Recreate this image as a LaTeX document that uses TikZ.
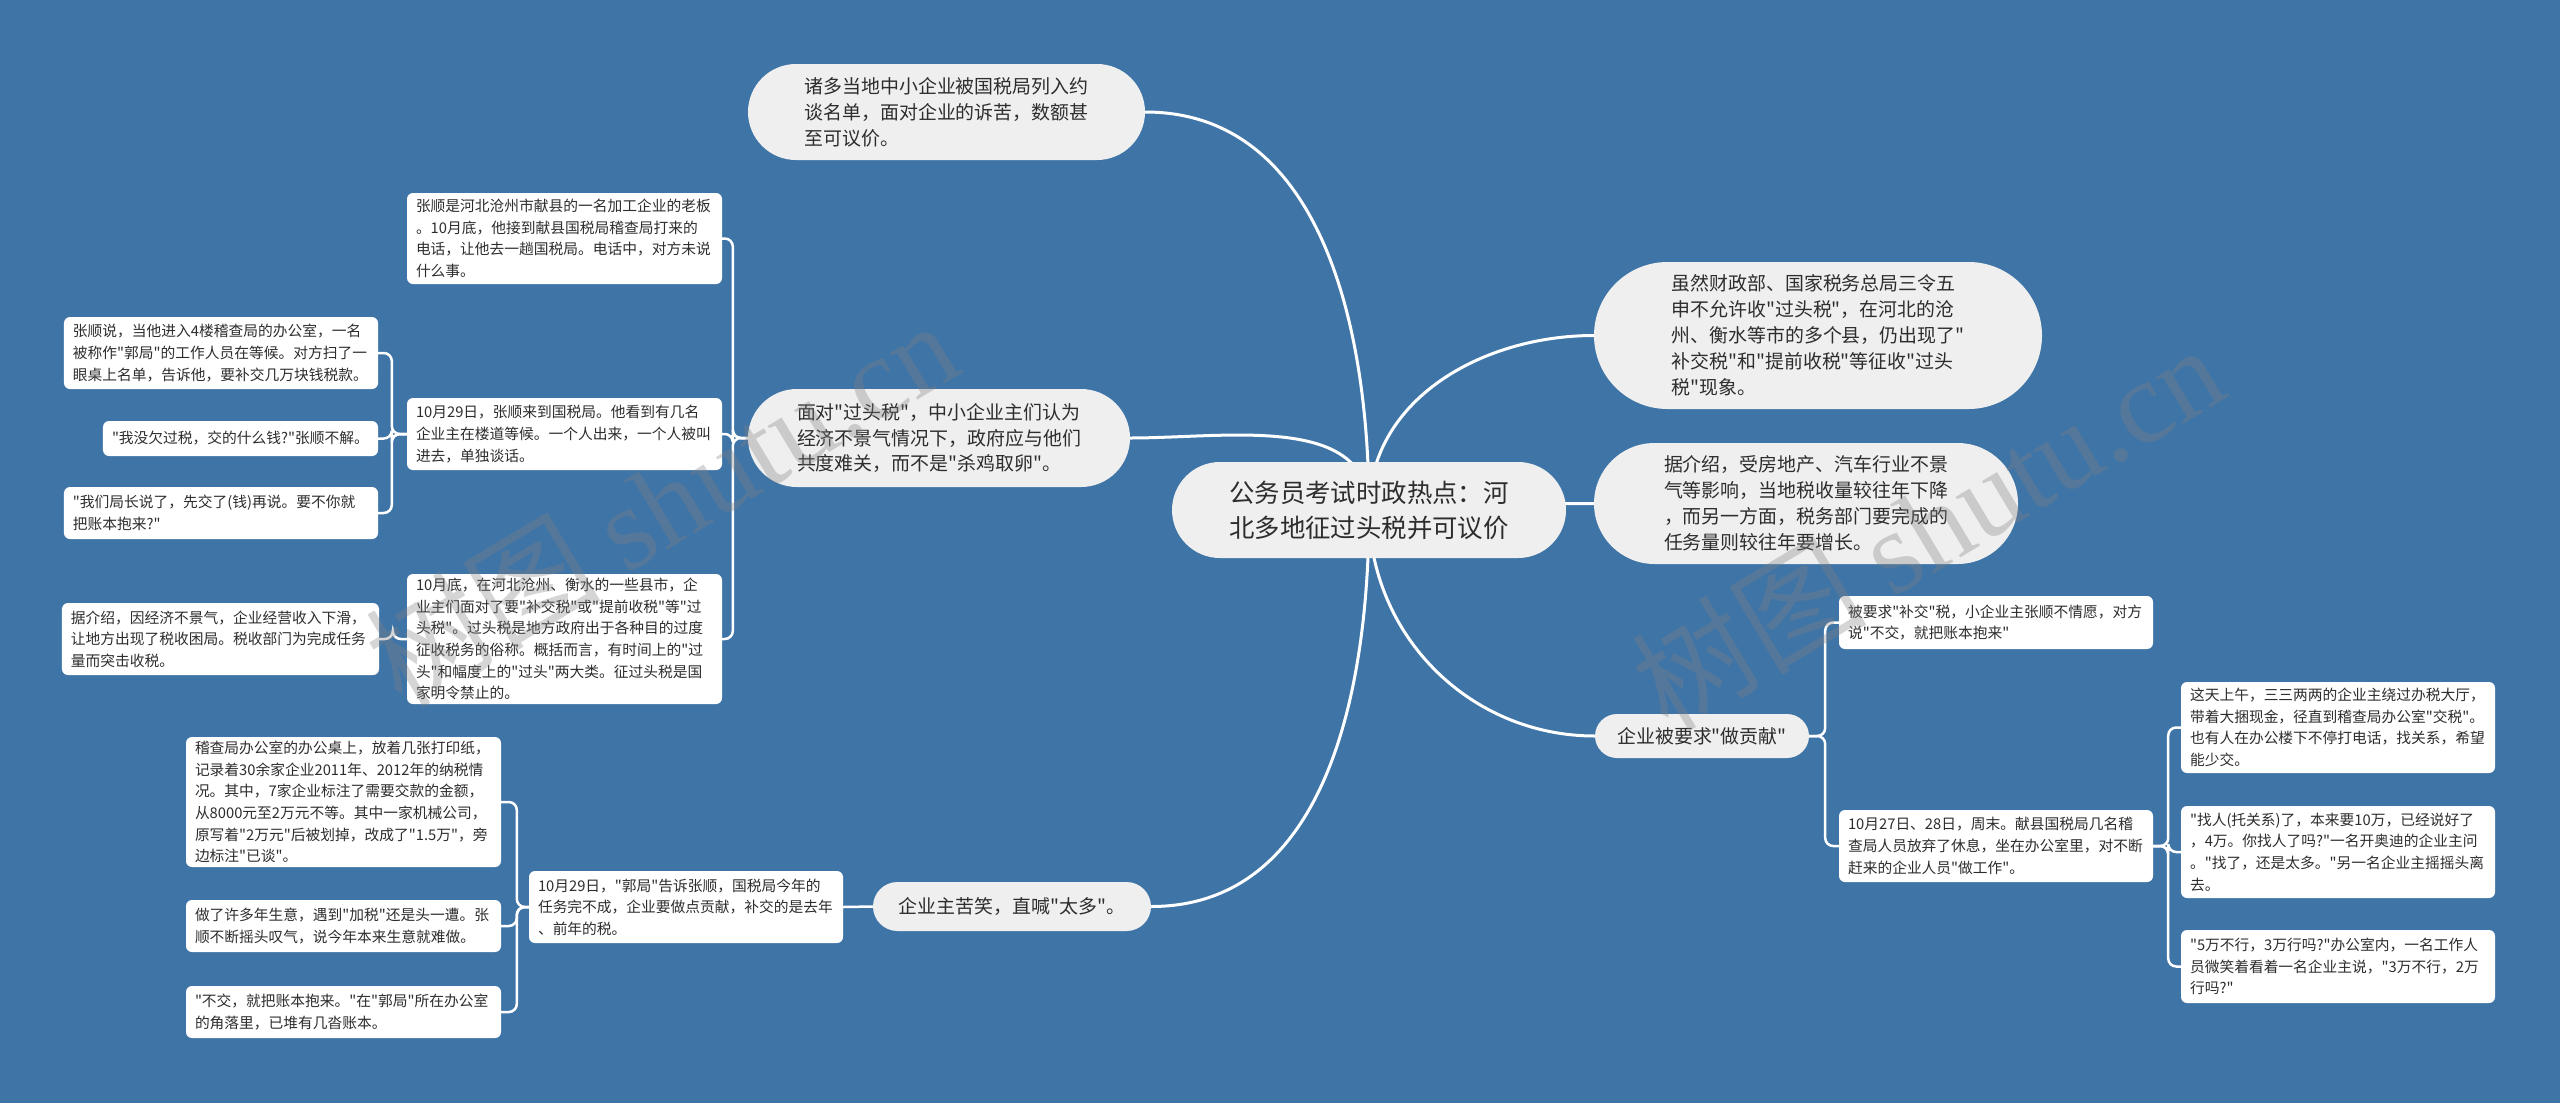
\documentclass[tikz,border=0pt]{standalone}
\usepackage{fontspec}
\newfontfamily\cjk{Noto Sans CJK SC}
\newfontfamily\wmserif{Liberation Serif}
\usetikzlibrary{shapes.misc}
\definecolor{bgblue}{RGB}{63,116,167}
\definecolor{pillfill}{RGB}{239,239,239}
\definecolor{txt}{RGB}{45,45,45}
\pgfdeclarelayer{back}
\pgfsetlayers{back,main}
\begin{document}
\begin{tikzpicture}[x=1bp,y=-1bp,
  pill/.style={rounded rectangle, fill=pillfill, text=txt, align=left, inner sep=0pt,
    font=\cjk\fontsize{19}{26}\selectfont},
  centre/.style={rounded rectangle, fill=pillfill, text=txt, align=left, inner sep=0pt,
    font=\cjk\fontsize{25.5}{35}\selectfont},
  box/.style={rectangle, rounded corners=6bp, fill=white, text=txt, align=left,
    inner xsep=9bp, inner ysep=0pt, text width=#1,
    font=\cjk\fontsize{14.8}{21.7}\selectfont},
  box/.default=297bp,
  mainline/.style={draw=white, line width=3bp},
  brline/.style={draw=white, line width=2.5bp, rounded corners=8bp},
  wm/.style={text=gray, opacity=0.33, rotate=31}
]
\useasboundingbox (0,0) rectangle (2560,1103);

% central topic
\node[centre, minimum width=394bp, minimum height=96bp] (c) at (1369,510)
  {公务员考试时政热点：河\\北多地征过头税并可议价};

% main branches
\node[pill, minimum width=397bp, minimum height=96bp] (p1) at (946.5,112)
  {诸多当地中小企业被国税局列入约\\谈名单，面对企业的诉苦，数额甚\\至可议价。};
\node[pill, minimum width=382bp, minimum height=98bp] (p2) at (939,438)
  {面对"过头税"，中小企业主们认为\\经济不景气情况下，政府应与他们\\共度难关，而不是"杀鸡取卵"。};
\node[pill, minimum width=278bp, minimum height=49bp] (p3) at (1012,906.5)
  {企业主苦笑，直喊"太多"。};
\node[pill, minimum width=448bp, minimum height=147bp] (p4) at (1818,335.5)
  {虽然财政部、国家税务总局三令五\\申不允许收"过头税"，在河北的沧\\州、衡水等市的多个县，仍出现了"\\补交税"和"提前收税"等征收"过头\\税"现象。};
\node[pill, minimum width=424bp, minimum height=121bp] (p5) at (1806,503.5)
  {据介绍，受房地产、汽车行业不景\\气等影响，当地税收量较往年下降\\，而另一方面，税务部门要完成的\\任务量则较往年要增长。};
\node[pill, minimum width=214bp, minimum height=44bp] (p6) at (1702,736)
  {企业被要求"做贡献"};

% left upper group
\node[box, minimum height=91bp] (b1) at (564.5,238.5)
  {张顺是河北沧州市献县的一名加工企业的老板\\。10月底，他接到献县国税局稽查局打来的\\电话，让他去一趟国税局。电话中，对方未说\\什么事。};
\node[box, minimum height=72bp] (b2) at (564.5,434)
  {10月29日，张顺来到国税局。他看到有几名\\企业主在楼道等候。一个人出来，一个人被叫\\进去，单独谈话。};
\node[box, minimum height=130bp] (b3) at (564.5,639)
  {10月底，在河北沧州、衡水的一些县市，企\\业主们面对了要"补交税"或"提前收税"等"过\\头税"。过头税是地方政府出于各种目的过度\\征收税务的俗称。概括而言，有时间上的"过\\头"和幅度上的"过头"两大类。征过头税是国\\家明令禁止的。};
\node[box=296bp, minimum height=72bp] (b4) at (221,353)
  {张顺说，当他进入4楼稽查局的办公室，一名\\被称作"郭局"的工作人员在等候。对方扫了一\\眼桌上名单，告诉他，要补交几万块钱税款。};
\node[box=257bp, minimum height=35bp] (b5) at (240.5,438.5)
  {"我没欠过税，交的什么钱?"张顺不解。};
\node[box=296bp, minimum height=52bp] (b6) at (221,513)
  {"我们局长说了，先交了(钱)再说。要不你就\\把账本抱来?"};
\node[box=299bp, minimum height=72bp] (b7) at (220.5,639)
  {据介绍，因经济不景气，企业经营收入下滑，\\让地方出现了税收困局。税收部门为完成任务\\量而突击收税。};

% left lower group
\node[box=296bp, minimum height=72bp] (b8) at (686,907)
  {10月29日，"郭局"告诉张顺，国税局今年的\\任务完不成，企业要做点贡献，补交的是去年\\、前年的税。};
\node[box, minimum height=130bp] (b9) at (343.5,802)
  {稽查局办公室的办公桌上，放着几张打印纸，\\记录着30余家企业2011年、2012年的纳税情\\况。其中，7家企业标注了需要交款的金额，\\从8000元至2万元不等。其中一家机械公司，\\原写着"2万元"后被划掉，改成了"1.5万"，旁\\边标注"已谈"。};
\node[box, minimum height=52bp] (b10) at (343.5,926)
  {做了许多年生意，遇到"加税"还是头一遭。张\\顺不断摇头叹气，说今年本来生意就难做。};
\node[box, minimum height=52bp] (b11) at (343.5,1012)
  {"不交，就把账本抱来。"在"郭局"所在办公室\\的角落里，已堆有几沓账本。};

% right lower group
\node[box=296bp, minimum height=53bp] (b12) at (1996,622.5)
  {被要求"补交"税，小企业主张顺不情愿，对方\\说"不交，就把账本抱来"};
\node[box=296bp, minimum height=72bp] (b13) at (1996,846)
  {10月27日、28日，周末。献县国税局几名稽\\查局人员放弃了休息，坐在办公室里，对不断\\赶来的企业人员"做工作"。};
\node[box=296bp, minimum height=91bp] (r1) at (2338,727.5)
  {这天上午，三三两两的企业主绕过办税大厅，\\带着大捆现金，径直到稽查局办公室"交税"。\\也有人在办公楼下不停打电话，找关系，希望\\能少交。};
\node[box=296bp, minimum height=92bp] (r2) at (2338,852)
  {"找人(托关系)了，本来要10万，已经说好了\\，4万。你找人了吗?"一名开奥迪的企业主问\\。"找了，还是太多。"另一名企业主摇摇头离\\去。};
\node[box=296bp, minimum height=73bp] (r3) at (2338,966.5)
  {"5万不行，3万行吗?"办公室内，一名工作人\\员微笑着看着一名企业主说，"3万不行，2万\\行吗?"};

\begin{pgfonlayer}{back}
  \fill[bgblue] (0,0) rectangle (2560,1103);
  % central connectors
  \draw[mainline] (c.center) to[out=90,in=0] (p1.east);
  \draw[mainline] (c.center) to[out=90,in=0] (p2.east);
  \draw[mainline] (c.center) to[out=-90,in=0] (p3.east);
  \draw[mainline] (c.center) to[out=90,in=180] (p4.west);
  \draw[mainline] (c.center) to[out=0,in=180] (p5.west);
  \draw[mainline] (c.center) to[out=-90,in=180] (p6.west);
  % brackets
  \draw[brline] (p2.west) -- ++(-15,0) |- (b1.east);
  \draw[brline] (p2.west) -- ++(-15,0) |- (b2.east);
  \draw[brline] (p2.west) -- ++(-15,0) |- (b3.east);
  \draw[brline] (b2.west) -- ++(-15,0) |- (b4.east);
  \draw[brline] (b2.west) -- ++(-15,0) |- (b5.east);
  \draw[brline] (b2.west) -- ++(-15,0) |- (b6.east);
  \draw[brline] (b3.west) -- ++(-14,0) |- (b7.east);
  \draw[brline] (p3.west) -- (b8.east);
  \draw[brline] (b8.west) -- ++(-12,0) |- (b9.east);
  \draw[brline] (b8.west) -- ++(-12,0) |- (b10.east);
  \draw[brline] (b8.west) -- ++(-12,0) |- (b11.east);
  \draw[brline] (p6.east) -- ++(16,0) |- (b12.west);
  \draw[brline] (p6.east) -- ++(16,0) |- (b13.west);
  \draw[brline] (b13.east) -- ++(15,0) |- (r1.west);
  \draw[brline] (b13.east) -- ++(15,0) |- (r2.west);
  \draw[brline] (b13.east) -- ++(15,0) |- (r3.west);
\end{pgfonlayer}

% watermarks
\node[wm, font=\fontsize{118}{124}\selectfont] (wm1) at (661,502) {\cjk 树图\ \wmserif shutu.cn};
\node[wm, font=\fontsize{118}{124}\selectfont] (wm2) at (1927,526) {\cjk 树图\ \wmserif shutu.cn};
\end{tikzpicture}
\end{document}
